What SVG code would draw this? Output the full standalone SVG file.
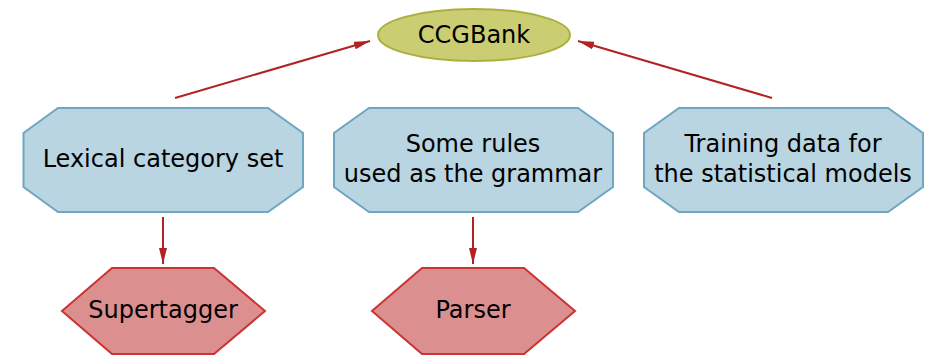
<svg xmlns="http://www.w3.org/2000/svg" width="925" height="355" viewBox="0 0 925 355">
<style>
text{font-family:"DejaVu Sans",sans-serif;font-size:24px;fill:#000;text-anchor:middle}
.oct{fill:#b9d5e1;stroke:#6fa6c2;stroke-width:2}
.hex{fill:#db8f8f;stroke:#cc3333;stroke-width:2}
.ell{fill:#cbcd72;stroke:#aab040;stroke-width:2}
.edge{stroke:#b22222;stroke-width:2;fill:none;marker-end:url(#ah)}
</style>
<defs>
<marker id="ah" viewBox="0 0 16 8" refX="16" refY="4" markerWidth="8" markerHeight="4" orient="auto" markerUnits="strokeWidth">
<path d="M0,0 L16,4 L0,8 z" fill="#b22222"/>
</marker>
</defs>
<g id="connectors">
<line class="edge" x1="175" y1="98" x2="370" y2="41"/>
<line class="edge" x1="772" y1="98" x2="578" y2="41"/>
<line class="edge" x1="163" y1="217" x2="163" y2="264"/>
<line class="edge" x1="473" y1="217" x2="473" y2="264"/>
</g>
<g id="ccgbank">
<ellipse class="ell" cx="474" cy="35" rx="96" ry="26"/>
<text x="474" y="43">CCGBank</text>
</g>
<g id="lexical">
<polygon class="oct" points="58,108 268,108 303,133 303,187 268,212 58,212 23.5,187 23.5,133"/>
<text x="163" y="167">Lexical category set</text>
</g>
<g id="rules">
<polygon class="oct" points="369,108 578,108 613,133 613,187 578,212 369,212 334,187 334,133"/>
<text x="473" y="152">Some rules</text>
<text x="473" y="182">used as the grammar</text>
</g>
<g id="training">
<polygon class="oct" points="679,108 888,108 923,133 923,187 888,212 679,212 644,187 644,133"/>
<text x="783" y="152">Training data for</text>
<text x="783" y="182">the statistical models</text>
</g>
<g id="supertagger">
<polygon class="hex" points="112,268 214,268 265,311 214,354 112,354 62,311"/>
<text x="163" y="318">Supertagger</text>
</g>
<g id="parser">
<polygon class="hex" points="422,268 524,268 575,311 524,354 422,354 372,311"/>
<text x="473" y="318">Parser</text>
</g>
</svg>
